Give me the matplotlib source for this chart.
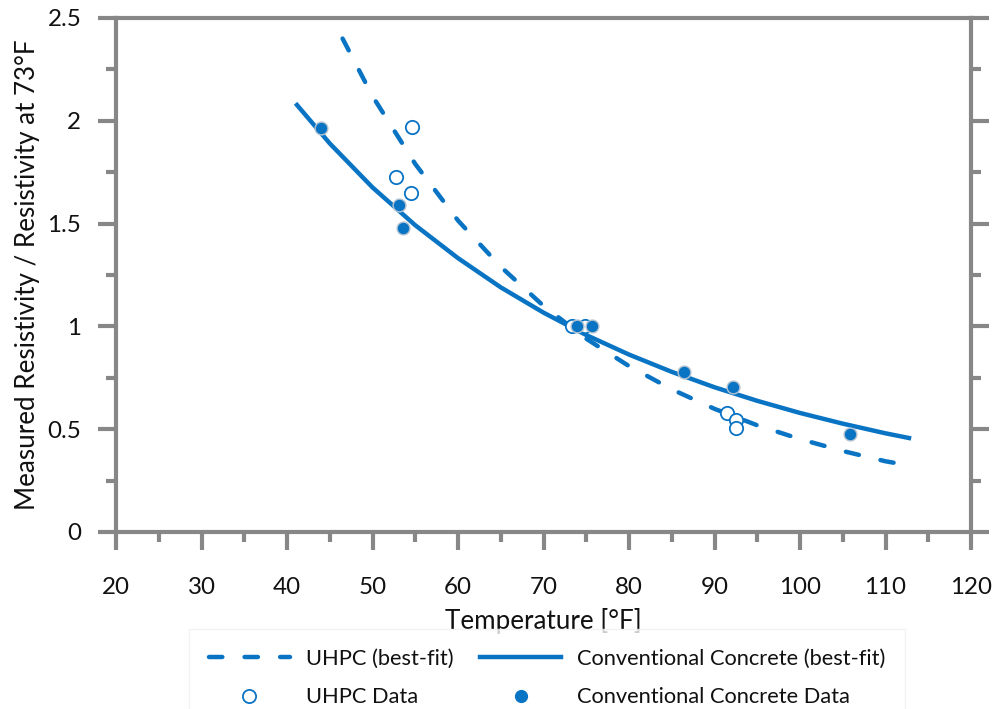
import matplotlib
matplotlib.use("Agg")
import matplotlib.pyplot as plt
from matplotlib.ticker import MultipleLocator
from matplotlib.lines import Line2D

# ---- data ----
uhpc_fit_T = [46.5, 50, 55, 60, 65, 70, 75, 80, 85, 90, 95, 100, 105, 110, 113]
uhpc_fit_R = [2.40, 2.12, 1.79, 1.515, 1.29, 1.10, 0.94, 0.807, 0.694, 0.599, 0.519, 0.452, 0.394, 0.344, 0.322]

conv_fit_T = [41, 45, 50, 55, 60, 65, 70, 75, 80, 85, 90, 95, 100, 105, 110, 113]
conv_fit_R = [2.085, 1.89, 1.676, 1.492, 1.332, 1.19, 1.067, 0.958, 0.863, 0.779, 0.704, 0.638, 0.579, 0.527, 0.48, 0.455]

uhpc_T = [54.6, 52.7, 54.5, 73.3, 74.8, 91.5, 92.5, 92.5]
uhpc_R = [1.97, 1.725, 1.647, 1.0, 1.0, 0.578, 0.545, 0.505]

conv_T = [44.0, 53.1, 53.6, 73.9, 75.7, 86.4, 92.2, 105.8]
conv_R = [1.965, 1.59, 1.48, 1.0, 1.0, 0.777, 0.707, 0.475]

labels = ["UHPC (best-fit)", "Conventional Concrete (best-fit)",
          "UHPC Data", "Conventional Concrete Data"]
x_label = "Temperature [°F]"
y_label = "Measured Resistivity / Resistivity at 73°F"

# ---- style ----
BLUE = "#0A74C4"
GREY = "#878787"
TXT = "#111111"
FONT = "Lato"

plt.rcParams["font.family"] = [FONT, "DejaVu Sans"]

fig = plt.figure(figsize=(9.98, 7.09), dpi=100)
renderer = fig.canvas.get_renderer()


def fit_size(s, target):
    t = fig.text(0, 0, s, fontsize=10)
    bb = t.get_window_extent(renderer)
    t.remove()
    return 10.0 * target / bb.width


FS_LABEL = 0.5 * (fit_size(x_label, 197) + fit_size(y_label, 469))
FS_TICK = fit_size("100", 40) * 1.05
FS_LEG = fit_size(labels[1], 310)

ax = fig.add_axes([116 / 998, 1 - 532 / 709, (971 - 116) / 998, (532 - 18) / 709])

ax.plot(uhpc_fit_T, uhpc_fit_R, color=BLUE, lw=3.2, linestyle=(0, (3.0, 5.0)),
        dash_capstyle="round", zorder=3)
ax.plot(conv_fit_T, conv_fit_R, color=BLUE, lw=3.2, solid_capstyle="butt", zorder=3)
ax.plot(uhpc_T, uhpc_R, linestyle="none", marker="o", ms=9.6, mfc="white",
        mec=BLUE, mew=1.3, zorder=4)
ax.plot(conv_T, conv_R, linestyle="none", marker="o", ms=9.2, mfc=BLUE,
        mec="#b3c3d1", mew=1.0, zorder=5)

ax.set_xlim(20, 120)
ax.set_ylim(0, 2.5)
ax.xaxis.set_major_locator(MultipleLocator(10))
ax.xaxis.set_minor_locator(MultipleLocator(5))
ax.yaxis.set_major_locator(MultipleLocator(0.5))
ax.yaxis.set_minor_locator(MultipleLocator(0.25))

for s in ax.spines.values():
    s.set_color(GREY)
    s.set_linewidth(3.0)

ax.tick_params(axis="both", which="both", direction="out", color=GREY, width=3.0,
               labelsize=FS_TICK, labelcolor=TXT)
ax.tick_params(axis="both", which="major", length=13)
ax.tick_params(axis="both", which="minor", length=7)
ax.tick_params(axis="y", which="both", left=True, right=True, labelright=False)
ax.tick_params(axis="x", which="both", top=False, bottom=True)
ax.tick_params(axis="x", which="major", pad=19.5)
ax.tick_params(axis="y", which="major", pad=12)

ax.yaxis.set_major_formatter(plt.FuncFormatter(lambda v, p: f"{v:g}"))

ax.set_xlabel(x_label, fontsize=FS_LABEL, color=TXT)
ax.set_ylabel(y_label, fontsize=FS_LABEL, color=TXT)
ax.xaxis.set_label_coords(0.5, (532 - 608) / 514)
ax.yaxis.set_label_coords((40 - 116) / 855, 0.5)

handles = [
    Line2D([], [], color=BLUE, lw=3.2, linestyle=(0, (3.0, 5.0)), dash_capstyle="round"),
    Line2D([], [], color=BLUE, lw=3.2),
    Line2D([], [], linestyle="none", marker="o", ms=9.5, mfc="white", mec=BLUE, mew=1.3),
    Line2D([], [], linestyle="none", marker="o", ms=8.5, mfc=BLUE, mec=BLUE),
]
order = [0, 2, 1, 3]
leg_px = FS_LEG * 100 / 72.0
leg = fig.legend([handles[i] for i in order], [labels[i] for i in order],
                 ncol=2, loc="upper left",
                 bbox_to_anchor=(189 / 998, 1 - 629 / 709),
                 frameon=True, fancybox=False, edgecolor="#f0f0f0",
                 fontsize=FS_LEG, handlelength=81 / leg_px,
                 handletextpad=16 / leg_px,
                 columnspacing=27 / leg_px, labelspacing=0.85, borderpad=0.9,
                 borderaxespad=0)
leg.get_frame().set_linewidth(1.0)
for t in leg.get_texts():
    t.set_color(TXT)

fig.savefig("out.png", dpi=100)
